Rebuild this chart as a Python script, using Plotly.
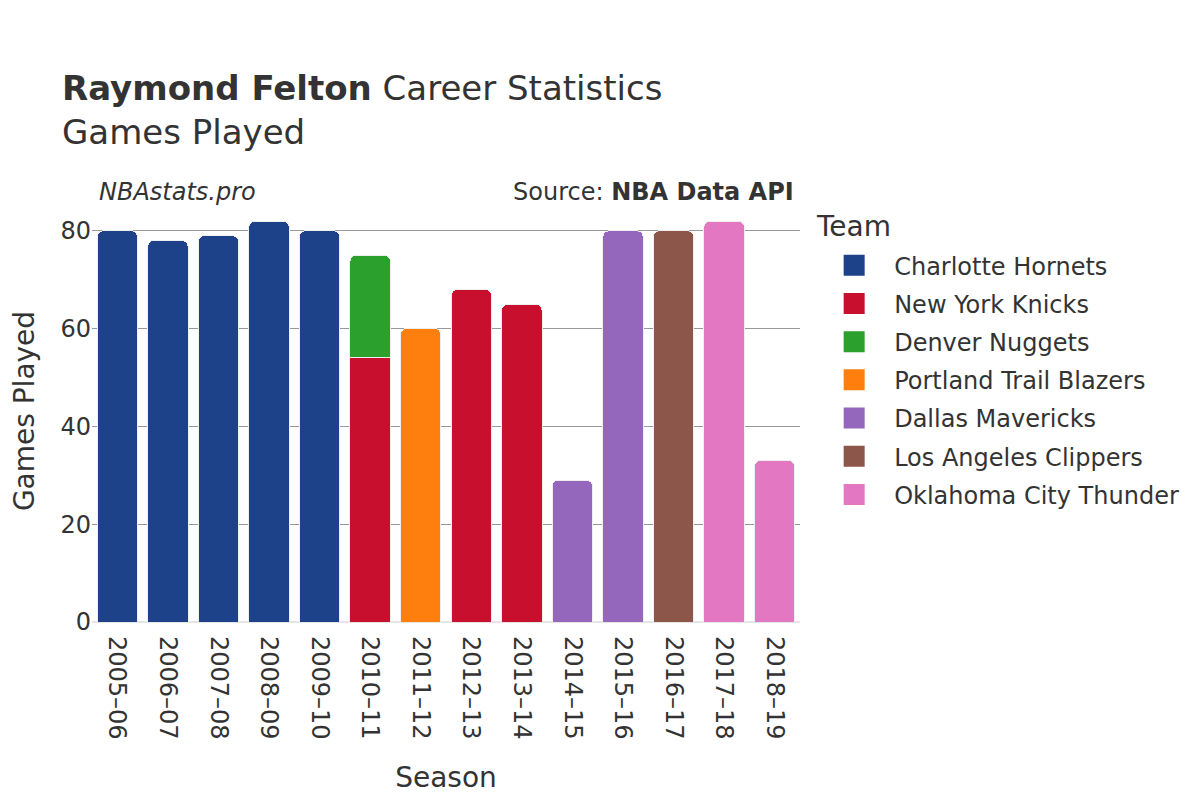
import plotly.graph_objects as go

seasons = ["2005–06", "2006–07", "2007–08", "2008–09", "2009–10", "2010–11", "2011–12",
           "2012–13", "2013–14", "2014–15", "2015–16", "2016–17", "2017–18", "2018–19"]

teams = ["Charlotte Hornets", "New York Knicks", "Denver Nuggets", "Portland Trail Blazers",
         "Dallas Mavericks", "Los Angeles Clippers", "Oklahoma City Thunder"]
team_colors = ["#1d428a", "#c8102e", "#2ca02c", "#ff7f0e", "#9467bd", "#8c564b", "#e377c2"]

cha_seasons = ["2005–06", "2006–07", "2007–08", "2008–09", "2009–10"]
cha_games = [80, 78, 79, 82, 80]
nyk_seasons = ["2010–11", "2012–13", "2013–14"]
nyk_games = [54, 68, 65]
den_seasons = ["2010–11"]
den_games = [21]
por_seasons = ["2011–12"]
por_games = [60]
dal_seasons = ["2014–15", "2015–16"]
dal_games = [29, 80]
lac_seasons = ["2016–17"]
lac_games = [80]
okc_seasons = ["2017–18", "2018–19"]
okc_games = [82, 33]

series = [
    (cha_seasons, cha_games),
    (nyk_seasons, nyk_games),
    (den_seasons, den_games),
    (por_seasons, por_games),
    (dal_seasons, dal_games),
    (lac_seasons, lac_games),
    (okc_seasons, okc_games),
]

font = "DejaVu Sans"
fig = go.Figure()
for name, color, (xs, ys) in zip(teams, team_colors, series):
    fig.add_trace(go.Bar(
        x=xs, y=ys, name=name, legendgroup=name, showlegend=False,
        marker=dict(color=color, line=dict(color="#eeeeee", width=1)),
    ))
# legend entries (no data drawn)
for name, color in zip(teams, team_colors):
    fig.add_trace(go.Scatter(
        x=[seasons[0]], y=[None], name=name, legendgroup=name, mode="markers",
        marker=dict(symbol="square", size=16, color=color, line=dict(color=color, width=5)),
        hoverinfo="skip",
    ))

fig.update_layout(
    width=1200, height=800,
    barmode="stack",
    barcornerradius=6,
    bargap=0.2,
    plot_bgcolor="white",
    paper_bgcolor="white",
    font=dict(family=font, color="#333333", size=24),
    margin=dict(l=84, r=408, t=192, b=186),
    title=dict(
        text="<b>Raymond Felton</b> Career Statistics<br>Games Played",
        x=0.045, xanchor="left", y=0.885, yanchor="top",
        font=dict(size=34, family=font, color="#333333"),
    ),
    xaxis=dict(
        categoryorder="array", categoryarray=seasons,
        range=[-0.5, len(seasons) - 0.5],
        tickangle=90, tickfont=dict(size=24),
        ticklabelstandoff=13,
        title=dict(text="Season", font=dict(size=28), standoff=28),
        showgrid=False, ticks="", automargin=False,
    ),
    yaxis=dict(
        range=[0, 86.3],
        tickvals=[0, 20, 40, 60, 80],
        showgrid=True, gridcolor="#999999", gridwidth=1,
        zeroline=True, zerolinecolor="#e5e5e5", zerolinewidth=2,
        tickfont=dict(size=24),
        title=dict(text="Games Played", font=dict(size=28), standoff=36),
        ticks="", automargin=False,
    ),
    legend=dict(
        x=1.02, xanchor="left", y=0.8977, yanchor="top",
        font=dict(size=24), traceorder="grouped",
        itemwidth=70, tracegroupgap=4,
    ),
    annotations=[
        dict(text="<i>NBAstats.pro</i>", x=0.0, xref="paper", y=1.01, yref="paper",
             xanchor="left", yanchor="bottom", showarrow=False, xshift=5, yshift=-12,
             font=dict(size=24, color="#333333")),
        dict(text="Source: <b>NBA Data API</b>", x=1.0, xref="paper", y=1.01, yref="paper",
             xanchor="right", yanchor="bottom", showarrow=False, xshift=-4, yshift=-12,
             font=dict(size=24, color="#333333")),
        dict(text="Team", x=1.0254, xref="paper", y=0.938, yref="paper",
             xanchor="left", yanchor="middle", showarrow=False, xshift=-4,
             font=dict(size=28, color="#333333")),
    ],
)

fig.write_html("out.html")
